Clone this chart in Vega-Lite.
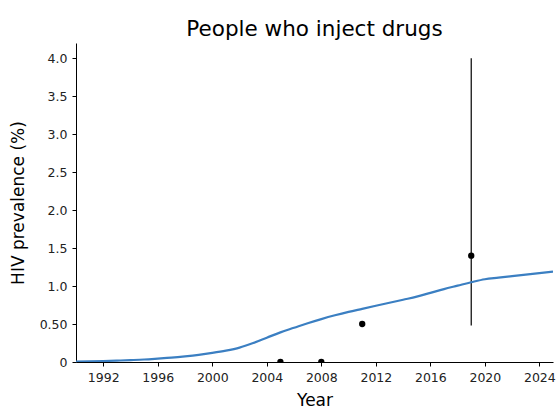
{
  "$schema": "https://vega.github.io/schema/vega-lite/v6.json",
  "autosize": "none",
  "width": 477,
  "height": 319,
  "padding": {"left": 76, "top": 43, "right": 5, "bottom": 49},
  "background": "white",
  "title": {"text": "People who inject drugs", "font": "DejaVu Sans", "fontSize": 21.5, "fontWeight": "normal", "color": "black", "offset": 3},
  "config": {
    "view": {"stroke": null},
    "axis": {"labelFont": "DejaVu Sans", "titleFont": "DejaVu Sans", "labelFontSize": 12.5, "titleFontSize": 17, "titleFontWeight": "normal", "labelColor": "#222", "titleColor": "black", "domainColor": "black", "tickColor": "black", "grid": false, "tickSize": 4, "labelOverlap": false, "labelPadding": 5}
  },
  "datasets": {
    "model": [
      {"year": 1990, "value": 0.005}, {"year": 1991, "value": 0.008}, {"year": 1992, "value": 0.012},
      {"year": 1993, "value": 0.018}, {"year": 1994, "value": 0.025}, {"year": 1995, "value": 0.033},
      {"year": 1996, "value": 0.045}, {"year": 1997, "value": 0.058}, {"year": 1998, "value": 0.075},
      {"year": 1999, "value": 0.095}, {"year": 2000, "value": 0.12}, {"year": 2001, "value": 0.15},
      {"year": 2002, "value": 0.19}, {"year": 2003, "value": 0.25}, {"year": 2004, "value": 0.32},
      {"year": 2005, "value": 0.39}, {"year": 2006, "value": 0.45}, {"year": 2007, "value": 0.51},
      {"year": 2008, "value": 0.565}, {"year": 2009, "value": 0.615}, {"year": 2010, "value": 0.66},
      {"year": 2011, "value": 0.70}, {"year": 2012, "value": 0.74}, {"year": 2013, "value": 0.78},
      {"year": 2014, "value": 0.82}, {"year": 2015, "value": 0.86}, {"year": 2016, "value": 0.91},
      {"year": 2017, "value": 0.96}, {"year": 2018, "value": 1.005}, {"year": 2019, "value": 1.05},
      {"year": 2020, "value": 1.09}, {"year": 2021, "value": 1.11}, {"year": 2022, "value": 1.13},
      {"year": 2023, "value": 1.15}, {"year": 2024, "value": 1.17}, {"year": 2025, "value": 1.19}
    ],
    "obs": [
      {"year": 2005, "value": 0},
      {"year": 2008, "value": 0},
      {"year": 2011, "value": 0.5},
      {"year": 2019, "value": 1.4, "lower": 0.48, "upper": 4.0}
    ]
  },
  "encoding": {
    "x": {"type": "quantitative", "title": "Year",
          "scale": {"domain": [1990, 2025], "nice": false, "zero": false},
          "axis": {"values": [1992, 1996, 2000, 2004, 2008, 2012, 2016, 2020, 2024], "format": "d", "titlePadding": 9, "labelOverlap": false}},
    "y": {"type": "quantitative", "title": "HIV prevalence (%)",
          "scale": {"domain": [0, 4.2], "nice": false},
          "axis": {"values": [0, 0.5, 1, 1.5, 2, 2.5, 3, 3.5, 4], "labelOverlap": false, "labelExpr": "datum.value == 0 ? '0' : datum.value == 0.5 ? '0.50' : format(datum.value, '.1f')", "titlePadding": 12}}
  },
  "layer": [
    {
      "data": {"name": "obs"},
      "transform": [{"filter": "isValid(datum.lower)"}],
      "mark": {"type": "rule", "color": "black", "strokeWidth": 1.2},
      "encoding": {
        "x": {"field": "year", "type": "quantitative"},
        "y": {"field": "lower", "type": "quantitative"},
        "y2": {"field": "upper"}
      }
    },
    {
      "data": {"name": "model"},
      "mark": {"type": "line", "color": "#3b7fc2", "strokeWidth": 2.2, "clip": true, "interpolate": "monotone"},
      "encoding": {
        "x": {"field": "year", "type": "quantitative"},
        "y": {"field": "value", "type": "quantitative"}
      }
    },
    {
      "data": {"name": "obs"},
      "mark": {"type": "circle", "color": "black", "opacity": 1, "size": 40, "clip": true},
      "encoding": {
        "x": {"field": "year", "type": "quantitative"},
        "y": {"field": "value", "type": "quantitative"}
      }
    }
  ]
}
